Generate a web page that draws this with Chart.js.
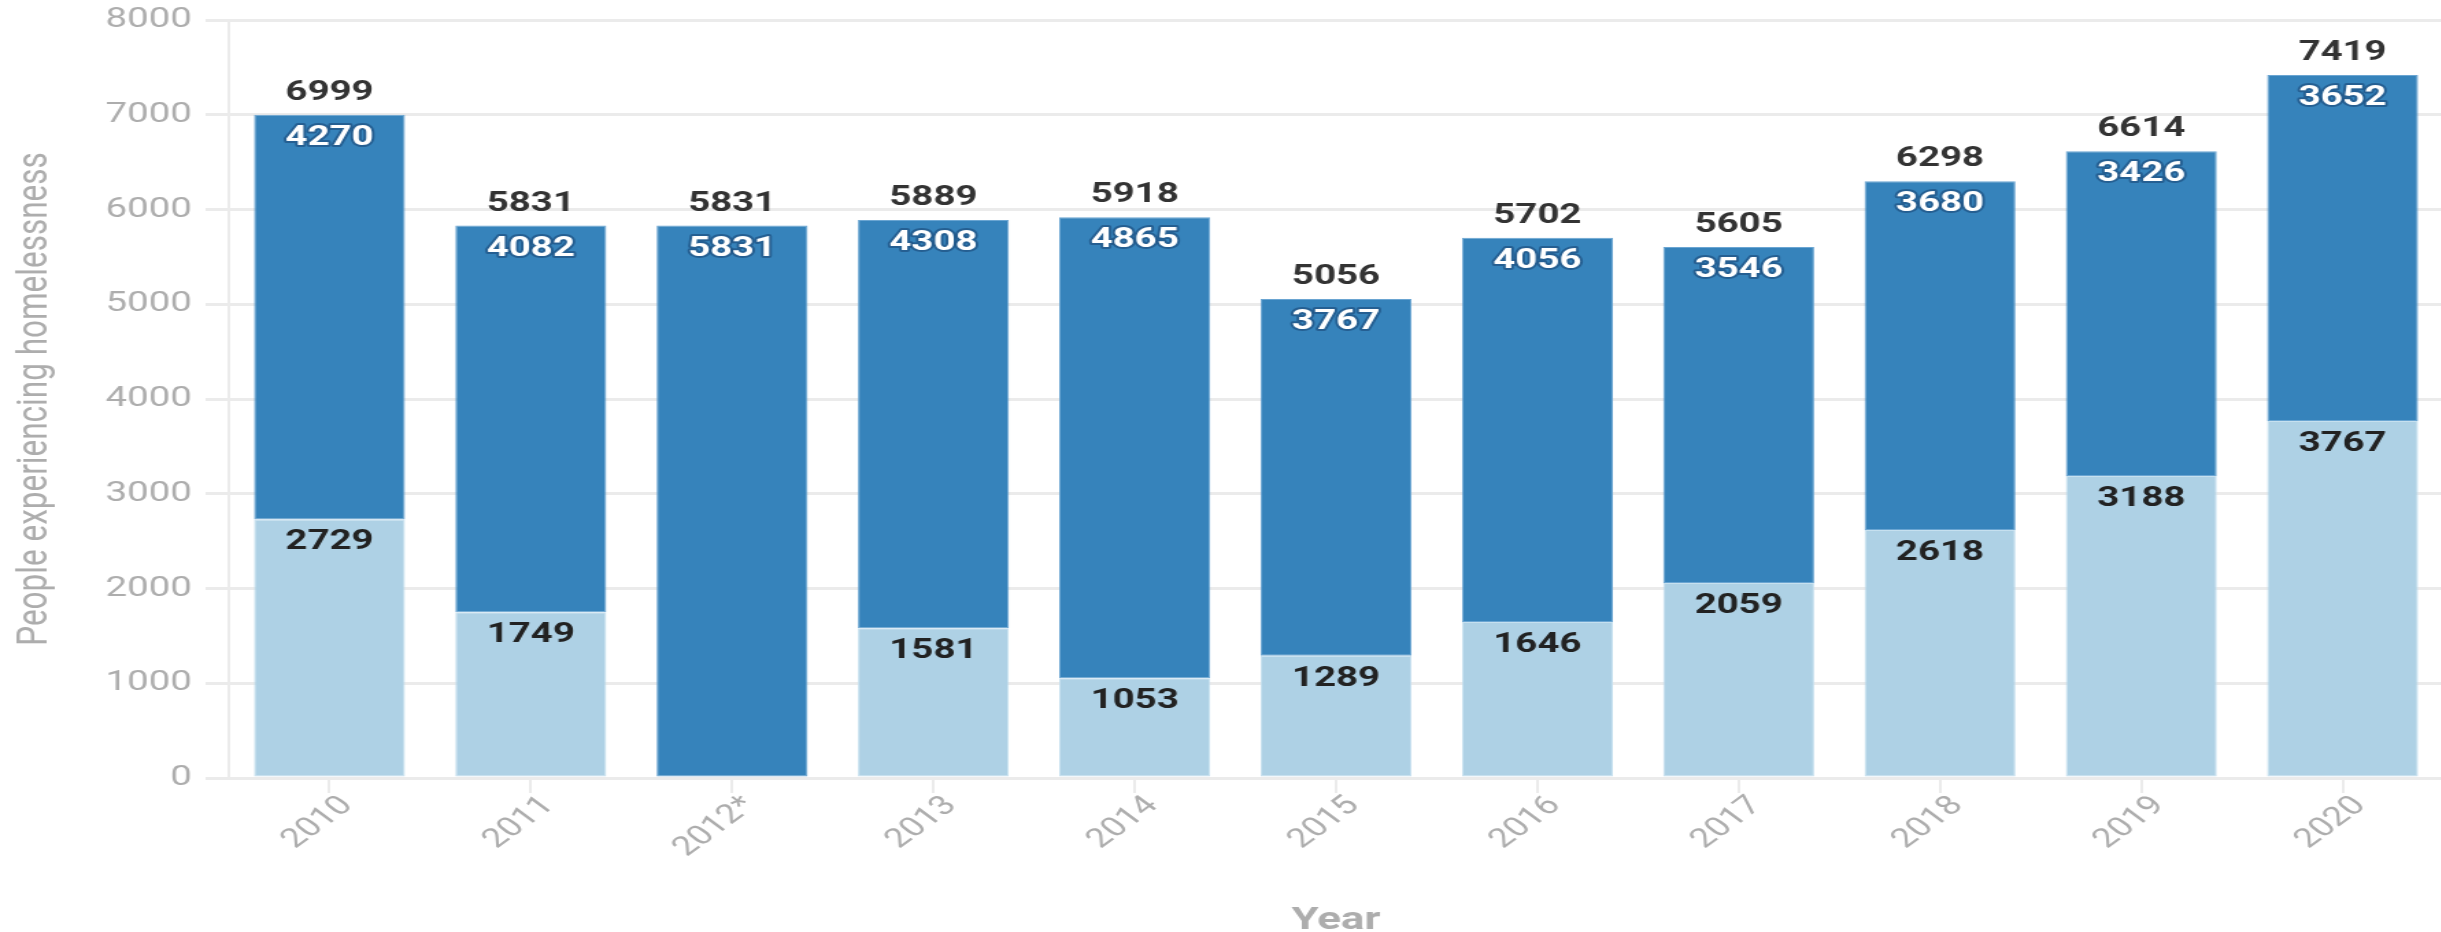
<!DOCTYPE html>
<html>
<head>
<meta charset="utf-8">
<script src="https://cdn.jsdelivr.net/npm/chart.js@4.4.1/dist/chart.umd.min.js"></script>
<style>
  html, body { margin: 0; padding: 0; background: #fff; overflow: hidden; width: 2441px; height: 932px; }
  #wrap { position: absolute; left: 0; top: 0; width: 1785px; height: 932px; transform: scaleX(1.3703); transform-origin: 0 0; }
  canvas { display: block; }
</style>
</head>
<body>
<div id="wrap"><canvas id="chart" width="1785" height="932"></canvas></div>
<script>
// Point-in-time counts per year
const years = ['2010', '2011', '2012*', '2013', '2014', '2015', '2016', '2017', '2018', '2019', '2020'];
const lowerValues = [2729, 1749, 0, 1581, 1053, 1289, 1646, 2059, 2618, 3188, 3767];
const upperValues = [4270, 4082, 5831, 4308, 4865, 3767, 4056, 3546, 3680, 3426, 3652];
const totals = [6999, 5831, 5831, 5889, 5918, 5056, 5702, 5605, 6298, 6614, 7419];
const yTicks = [0, 1000, 2000, 3000, 4000, 5000, 6000, 7000, 8000];

const GRID = '#ebebeb';
const AXIS_TEXT = '#adadad';

Chart.defaults.font.family = 'Roboto, "Open Sans", sans-serif';

// Value labels: total above each bar, segment values just inside each segment top
const valueLabels = {
  id: 'valueLabels',
  afterDatasetsDraw(chart) {
    const ctx = chart.ctx;
    const lowMeta = chart.getDatasetMeta(0);
    const upMeta = chart.getDatasetMeta(1);
    ctx.save();
    ctx.font = 'bold 28px Roboto';
    ctx.textAlign = 'center';
    ctx.textBaseline = 'alphabetic';
    ctx.lineJoin = 'round';
    years.forEach((_, i) => {
      const up = upMeta.data[i];
      const low = lowMeta.data[i];
      ctx.fillStyle = '#333333';
      ctx.fillText(String(totals[i]), up.x, up.y - 15);

      ctx.lineWidth = 4;
      ctx.strokeStyle = 'rgba(30, 80, 128, 0.7)';
      ctx.strokeText(String(upperValues[i]), up.x, up.y + 30);
      ctx.fillStyle = '#ffffff';
      ctx.fillText(String(upperValues[i]), up.x, up.y + 30);

      if (lowerValues[i] > 0) {
        ctx.fillStyle = '#222222';
        ctx.fillText(String(lowerValues[i]), low.x, low.y + 30);
      }
    });
    ctx.restore();
  }
};

new Chart(document.getElementById('chart'), {
  type: 'bar',
  data: {
    labels: years,
    datasets: [
      {
        label: 'lower',
        data: lowerValues,
        backgroundColor: '#aed1e5',
        borderColor: '#c6e0ef',
        borderWidth: 1,
        borderSkipped: false,
        stack: 'all',
        barPercentage: 0.75,
        categoryPercentage: 1.0
      },
      {
        label: 'upper',
        data: upperValues,
        backgroundColor: '#3683bb',
        borderColor: '#6aa5d2',
        borderWidth: 1,
        borderSkipped: false,
        stack: 'all',
        barPercentage: 0.75,
        categoryPercentage: 1.0
      }
    ]
  },
  options: {
    responsive: false,
    animation: false,
    devicePixelRatio: 1,
    layout: { padding: { top: 20, right: 2, bottom: 0, left: 0 } },
    plugins: {
      legend: { display: false },
      tooltip: { enabled: false }
    },
    scales: {
      x: {
        stacked: true,
        grid: {
          display: true,
          offset: false,
          drawOnChartArea: false,
          drawTicks: true,
          tickLength: 15,
          color: GRID,
          lineWidth: 2
        },
        border: { display: false },
        ticks: {
          color: AXIS_TEXT,
          font: { size: 27 },
          minRotation: 45,
          maxRotation: 45,
          padding: -3,
          labelOffset: 13
        },
        title: {
          display: true,
          text: 'Year',
          color: AXIS_TEXT,
          font: { size: 32, weight: 'bold' },
          padding: { top: 0, bottom: -8 }
        },
        afterFit(scale) {
          scale.height = 154;
          scale.paddingLeft = 0;
          scale.paddingRight = 0;
        }
      },
      y: {
        stacked: true,
        min: 0,
        max: 8000,
        afterBuildTicks(scale) { scale.ticks = yTicks.map(v => ({ value: v })); },
        grid: {
          color: GRID,
          lineWidth: 3,
          tickLength: 17
        },
        border: { display: true, color: GRID, width: 2 },
        ticks: {
          color: AXIS_TEXT,
          font: { size: 28 },
          padding: 10,
          callback: (v) => String(v)
        },
        title: {
          display: true,
          text: 'People experiencing homelessness',
          color: AXIS_TEXT,
          font: { size: 31.5 },
          padding: { top: 7, bottom: 0 }
        },
        afterFit(scale) {
          scale.width = 167;
          scale.paddingTop = 0;
          scale.paddingBottom = 0;
        }
      }
    }
  },
  plugins: [valueLabels]
});
</script>
</body>
</html>
